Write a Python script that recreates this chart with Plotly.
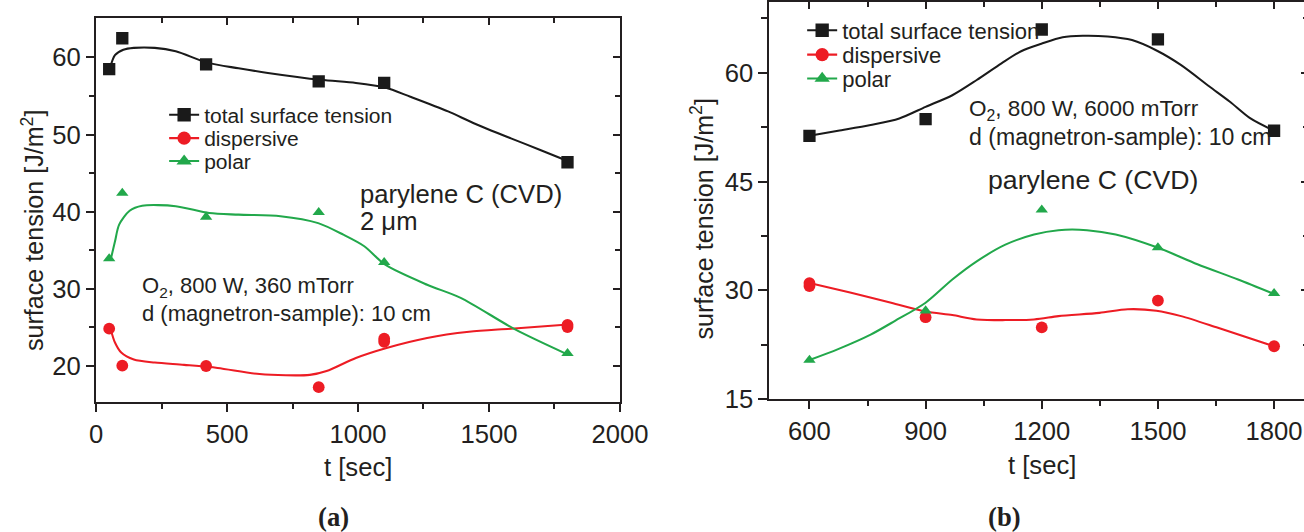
import plotly.graph_objects as go

# reference frame (positions below are given in reference pixels)
RW, RH = 1304, 532
# the page is photographed slightly reduced; draw on a proportionally larger canvas
K = 1.0255
W, H = round(RW * K), round(RH * K)

INK = "#231f20"
BLACK = "#1a1a1a"
RED = "#ed1c24"
GREEN = "#22a84b"
FONT = "Liberation Sans, Arial, sans-serif"
SERIF = "Liberation Serif, Times New Roman, serif"

# ---------------- panel (a): 360 mTorr ----------------
a_t = [50, 100, 420, 850, 1100, 1800]
a_total = [58.5, 62.5, 59.1, 56.9, 56.7, 46.4]
a_polar = [33.9, 42.4, 39.3, 39.9, 33.4, 21.6]
a_disp_t = [50, 100, 420, 850, 1100, 1100, 1800, 1800]
a_disp = [24.8, 20.0, 19.95, 17.2, 23.1, 23.5, 25.0, 25.3]

a_fit_total_t = [53, 72, 104, 144, 224, 304, 427, 544, 656, 859, 992, 1104, 1200, 1344, 1440, 1584, 1696, 1805]
a_fit_total = [58.6, 60.3, 61.0, 61.25, 61.25, 60.8, 59.3, 58.6, 58.0, 57.1, 56.7, 56.1, 54.9, 53.0, 51.5, 49.5, 48.0, 46.5]
a_fit_polar_t = [56, 72, 88, 128, 176, 304, 432, 544, 704, 848, 944, 1024, 1104, 1264, 1392, 1600, 1797]
a_fit_polar = [33.8, 36.1, 38.3, 40.1, 40.75, 40.7, 39.8, 39.6, 39.4, 38.5, 37.0, 35.5, 33.1, 30.5, 28.8, 24.7, 21.5]
a_fit_disp_t = [56, 72, 96, 144, 224, 336, 464, 624, 816, 880, 992, 1109, 1264, 1424, 1584, 1802]
a_fit_disp = [24.7, 23.0, 21.7, 20.8, 20.4, 20.1, 19.7, 18.9, 18.8, 19.3, 21.0, 22.3, 23.6, 24.4, 24.8, 25.35]

# ---------------- panel (b): 6000 mTorr ----------------
b_t = [600, 900, 1200, 1500, 1800]
b_total = [51.3, 53.6, 65.96, 64.6, 52.0]
b_polar = [20.4, 27.2, 41.1, 35.9, 29.6]
b_disp_t = [600, 600, 900, 1200, 1500, 1800]
b_disp = [30.6, 31.0, 26.3, 24.9, 28.6, 22.3]

b_fit_total_t = [600, 674, 758, 832, 900, 969, 1032, 1096, 1148, 1199, 1254, 1306, 1370, 1433, 1499, 1560, 1633, 1686, 1739, 1800]
b_fit_total = [51.3, 52.0, 52.8, 53.7, 55.3, 56.9, 59.0, 61.3, 63.0, 64.0, 64.9, 65.1, 65.0, 64.5, 63.0, 61.05, 58.1, 56.0, 53.7, 52.0]
b_fit_polar_t = [600, 674, 758, 821, 900, 969, 1032, 1106, 1180, 1243, 1317, 1391, 1499, 1602, 1707, 1800]
b_fit_polar = [20.4, 21.9, 23.9, 25.8, 28.3, 31.5, 34.0, 36.3, 37.7, 38.3, 38.3, 37.7, 35.9, 33.6, 31.5, 29.5]
b_fit_disp_t = [600, 705, 811, 900, 969, 1032, 1180, 1243, 1349, 1422, 1496, 1560, 1655, 1800]
b_fit_disp = [31.0, 29.7, 28.3, 27.1, 26.6, 26.0, 26.0, 26.45, 26.9, 27.4, 27.2, 26.45, 24.85, 22.3]

a_xticks = [0, 500, 1000, 1500, 2000]
a_xminor = [250, 750, 1250, 1750]
a_yticks = [20, 30, 40, 50, 60]
a_yminor = [25, 35, 45, 55]
b_xticks = [600, 900, 1200, 1500, 1800]
b_xminor = [750, 1050, 1350, 1650]
b_yticks = [15, 30, 45, 60]
b_yminor = [22.5, 37.5, 52.5, 67.5]

series_names = ["total surface tension", "dispersive", "polar"]
series_colors = [BLACK, RED, GREEN]
series_symbols = ["square", "circle", "triangle-up"]
series_sizes = [12, 11.5, 10.5]

fig = go.Figure()

def add_panel(xa, ya, legends, fits, points):
    for (ft, fv), (pt, pv), name, col, sym, ms, lg in zip(fits, points, series_names, series_colors,
                                                          series_symbols, series_sizes, legends):
        fig.add_trace(go.Scatter(x=ft, y=fv, mode="lines",
                                 line=dict(color=col, width=2 * K, shape="spline", smoothing=0.8),
                                 xaxis=xa, yaxis=ya, showlegend=False, hoverinfo="skip"))
        fig.add_trace(go.Scatter(x=pt, y=pv, mode="markers",
                                 marker=dict(symbol=sym, color=col, size=ms * K, line=dict(width=0)),
                                 xaxis=xa, yaxis=ya, showlegend=False))
        fig.add_trace(go.Scatter(x=[None], y=[None], mode="lines+markers", name=name,
                                 line=dict(color=col, width=2 * K),
                                 marker=dict(symbol=sym, color=col, size=13 * K, line=dict(width=0)),
                                 xaxis=xa, yaxis=ya, legend=lg))

add_panel("x", "y", ["legend", "legend2", "legend3"],
          [(a_fit_total_t, a_fit_total), (a_fit_disp_t, a_fit_disp), (a_fit_polar_t, a_fit_polar)],
          [(a_t, a_total), (a_disp_t, a_disp), (a_t, a_polar)])
add_panel("x2", "y2", ["legend4", "legend5", "legend6"],
          [(b_fit_total_t, b_fit_total), (b_fit_disp_t, b_fit_disp), (b_fit_polar_t, b_fit_polar)],
          [(b_t, b_total), (b_disp_t, b_disp), (b_t, b_polar)])
# carrier traces for the mirrored (inside) tick axes
fig.add_trace(go.Scatter(x=[None], y=[None], xaxis="x3", yaxis="y3", showlegend=False, hoverinfo="skip"))
fig.add_trace(go.Scatter(x=[None], y=[None], xaxis="x4", yaxis="y4", showlegend=False, hoverinfo="skip"))

tickfont = dict(family=FONT, size=25 * K, color=INK)

def main_axis(dom, rng, tv, minor, anchor):
    return dict(domain=dom, range=rng, tickvals=tv, ticks="outside", ticklen=8 * K, tickwidth=2 * K,
                tickcolor=INK, showline=True, linewidth=2 * K, linecolor=INK, mirror=True,
                showgrid=False, zeroline=False, tickfont=tickfont, anchor=anchor,
                minor=dict(tickvals=minor, ticks="outside", ticklen=5 * K, tickwidth=2 * K,
                           tickcolor=INK, showgrid=False))

def mirror_axis(rng, tv, minor, overlay, side, anchor):
    return dict(range=rng, tickvals=tv, ticks="inside", ticklen=7 * K, tickwidth=2 * K, tickcolor=INK,
                showline=False, showgrid=False, zeroline=False, showticklabels=False,
                overlaying=overlay, side=side, anchor=anchor,
                minor=dict(tickvals=minor, ticks="inside", ticklen=5 * K, tickwidth=2 * K,
                           tickcolor=INK, showgrid=False))

a_xdom = [89.3 / RW, 614.3 / RW]
a_ydom = [1 - 401.7 / RH, 1 - 15.7 / RH]
b_xdom = [763.3 / RW, 1.0]
b_ydom = [1 - 398.7 / RH, 1.0]
a_xr = [0, 2000]
a_yr = [15.254, 65.173]
b_xr = [494.35, 1887.6]
b_yr = [15, 69.75]

def leg(x, y, size):
    return dict(x=x / RW, y=1 - y / RH, xanchor="left", yanchor="middle",
                bgcolor="rgba(0,0,0,0)", borderwidth=0,
                font=dict(family=FONT, size=size * K, color=INK))

fig.update_layout(
    width=W, height=H, autosize=False,
    margin=dict(l=0, r=0, t=0, b=0, pad=0),
    paper_bgcolor="white", plot_bgcolor="white",
    font=dict(family=FONT, color=INK),
    xaxis=main_axis(a_xdom, a_xr, a_xticks, a_xminor, "y"),
    yaxis=main_axis(a_ydom, a_yr, a_yticks, a_yminor, "x"),
    xaxis2=main_axis(b_xdom, b_xr, b_xticks, b_xminor, "y2"),
    yaxis2=main_axis(b_ydom, b_yr, b_yticks, b_yminor, "x2"),
    xaxis3=mirror_axis(a_xr, a_xticks, a_xminor, "x", "top", "y"),
    yaxis3=mirror_axis(a_yr, a_yticks, a_yminor, "y", "right", "x"),
    xaxis4=mirror_axis(b_xr, b_xticks, b_xminor, "x2", "top", "y2"),
    yaxis4=mirror_axis(b_yr, b_yticks, b_yminor, "y2", "right", "x2"),
    legend=leg(157.5, 113.5, 20.5),
    legend2=leg(157.5, 137, 20.5),
    legend3=leg(157.5, 160, 20.5),
    legend4=leg(797, 28.5, 21.5),
    legend5=leg(797, 53, 21.5),
    legend6=leg(797, 77, 21.5),
)

def note(text, x, y, size, xanchor="left", angle=0, family=FONT):
    fig.add_annotation(text=text, x=x / RW, y=1 - y / RH, xref="paper", yref="paper",
                       xanchor=xanchor, yanchor="middle", showarrow=False, textangle=angle,
                       font=dict(family=family, size=size * K, color=INK))

# panel (a) texts
note("parylene C (CVD)", 351.8, 192.7, 25)
note("2 μm", 351.8, 220, 25)
note("O<sub>2</sub>, 800 W, 360 mTorr", 133.4, 286, 21.5)
note("d (magnetron-sample): 10 cm", 133.4, 313, 21.5)
note("surface tension [J/m<sup>2</sup>]", 26, 229, 24.5, xanchor="center", angle=-90)
note("t [sec]", 352, 467, 25, xanchor="center")
note("<b>(a)</b>", 327, 517, 26, xanchor="center", family=SERIF)

# panel (b) texts
note("O<sub>2</sub>, 800 W, 6000 mTorr", 961.9, 108, 22)
note("d (magnetron-sample): 10 cm", 961.9, 136, 22.5)
note("parylene C (CVD)", 981.5, 178.3, 26)
note("surface tension [J/m<sup>2</sup>]", 697, 218, 24.5, xanchor="center", angle=-90)
note("t [sec]", 1037.5, 465, 25, xanchor="center")
note("<b>(b)</b>", 1000, 517, 26, xanchor="center", family=SERIF)

fig.write_html(
    "out.html",
    config={"responsive": False, "displayModeBar": False},
    post_script="document.body.style.margin='0';document.body.style.overflow='hidden';",
)
